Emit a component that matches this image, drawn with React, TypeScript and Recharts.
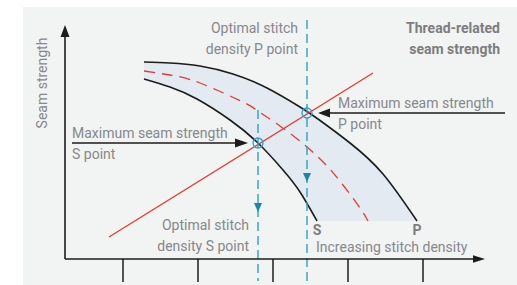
import { ComposedChart, Area, Line, XAxis, YAxis, ReferenceLine, ReferenceDot } from 'recharts';

// curves (x: stitch density, y: seam strength)
const pCurve = [
  { x: 79, y: 197 }, { x: 105, y: 196 }, { x: 135, y: 193 }, { x: 168, y: 185 },
  { x: 202, y: 171 }, { x: 235, y: 152 }, { x: 253, y: 140 }, { x: 285, y: 116 },
  { x: 318, y: 85 }, { x: 352, y: 38 },
];
const sCurve = [
  { x: 79, y: 180 }, { x: 105, y: 172 }, { x: 132, y: 160 }, { x: 165, y: 139 },
  { x: 193, y: 116 }, { x: 218, y: 89 }, { x: 235, y: 67 }, { x: 252, y: 38 },
];
const threadCurve = [
  { x: 79, y: 188 }, { x: 105, y: 184 }, { x: 135, y: 176 }, { x: 178, y: 157 },
  { x: 190, y: 150 }, { x: 215, y: 133 }, { x: 242, y: 112 }, { x: 262, y: 93 },
  { x: 278, y: 74 }, { x: 295, y: 51 }, { x: 303, y: 38 },
];
const fabricLine = [{ x: 44, y: 22 }, { x: 308, y: 186 }];
const densityTicks = [58, 133, 208, 283, 358];
const baseLevel = 38;

const pPoint = { x: 242, y: 146 };
const sPoint = { x: 193, y: 116 };

const BLUE = '#2e9fc9';
const RED = '#e8392c';
const INK = '#1c1c1c';
const GRAY_TXT = '#86888b';
const BG = '#f2f3f3';

const arrow = (color: string, len: number, half: number, width = 1.5) => (p: any) => {
  const { x1, y1, x2, y2 } = p;
  const dx = x2 - x1;
  const dy = y2 - y1;
  const d = Math.hypot(dx, dy) || 1;
  const ux = dx / d;
  const uy = dy / d;
  const bx = x2 - ux * len;
  const by = y2 - uy * len;
  const pts = `${x2},${y2} ${bx - uy * half},${by + ux * half} ${bx + uy * half},${by - ux * half}`;
  return (
    <g>
      <line x1={x1} y1={y1} x2={bx + ux} y2={by + uy} stroke={color} strokeWidth={width} />
      <polygon points={pts} fill={color} />
    </g>
  );
};

const plainLine = (color: string, width: number, dash: string) => (p: any) => (
  <line x1={p.x1} y1={p.y1} x2={p.x2} y2={p.y2} stroke={color} strokeWidth={width} strokeDasharray={dash} />
);

const downTriangle = (p: any) => (
  <polygon points={`${p.cx},${p.cy} ${p.cx - 4},${p.cy - 9} ${p.cx + 4},${p.cy - 9}`} fill="#1b86ab" />
);

const font = "Roboto, 'Liberation Sans', sans-serif";

export default function App() {
  return (
    <div style={{ position: 'absolute', left: 0, top: 0, width: 517, height: 285, background: '#fff', overflow: 'hidden' }}>
      <div style={{ position: 'absolute', left: 23, top: 7, right: 0, bottom: 0, background: BG }} />
      <div style={{ position: 'absolute', left: 0, top: 0 }}>
        <ComposedChart width={517} height={285} margin={{ top: 25, right: 32, bottom: 0, left: 65 }}>
          <XAxis
            type="number"
            dataKey="x"
            domain={[0, 420]}
            ticks={densityTicks}
            height={26}
            axisLine={false}
            tickSize={23}
            tickLine={{ stroke: INK, strokeWidth: 1.5 }}
            tick={() => <g />}
            allowDataOverflow
          />
          <YAxis type="number" dataKey="y" domain={[0, 234]} hide allowDataOverflow />
          <Area data={pCurve} dataKey="y" type="natural" baseValue={baseLevel} fill="#e3eaf1" fillOpacity={1} stroke={INK} strokeWidth={1.6} isAnimationActive={false} dot={false} activeDot={false} />
          <Area data={sCurve} dataKey="y" type="natural" baseValue={baseLevel} fill={BG} fillOpacity={1} stroke={INK} strokeWidth={1.6} isAnimationActive={false} dot={false} activeDot={false} />
          <Line data={threadCurve} dataKey="y" type="natural" stroke={RED} strokeWidth={1.3} strokeDasharray="11 7" dot={false} activeDot={false} isAnimationActive={false} />
          <Line data={fabricLine} dataKey="y" type="linear" stroke={RED} strokeWidth={1.3} dot={false} activeDot={false} isAnimationActive={false} />

          <ReferenceLine segment={[{ x: 242, y: 239 }, { x: 242, y: -22 }]} ifOverflow="visible" shape={plainLine(BLUE, 1.4, '9 5')} />
          <ReferenceLine segment={[{ x: 193, y: 149 }, { x: 193, y: -22 }]} ifOverflow="visible" shape={plainLine(BLUE, 1.4, '9 5')} />
          <ReferenceDot x={pPoint.x} y={pPoint.y - 69} ifOverflow="visible" shape={downTriangle} />
          <ReferenceDot x={sPoint.x} y={sPoint.y - 69} ifOverflow="visible" shape={downTriangle} />

          <ReferenceLine segment={[{ x: 0, y: 0 }, { x: 0, y: 234 }]} ifOverflow="visible" shape={arrow(INK, 12, 4.5, 1.6)} />
          <ReferenceLine segment={[{ x: 0, y: 0 }, { x: 420, y: 0 }]} ifOverflow="visible" shape={arrow(INK, 12, 3.8, 1.6)} />
          <ReferenceLine segment={[{ x: 7, y: 116 }, { x: 183, y: 116 }]} ifOverflow="visible" shape={arrow(INK, 13, 4.5, 1.5)} />
          <ReferenceLine segment={[{ x: 440, y: 146 }, { x: 253, y: 146 }]} ifOverflow="visible" shape={arrow(INK, 12, 4.5, 1.5)} />

          <ReferenceDot x={pPoint.x} y={pPoint.y} r={5} fill="none" stroke={BLUE} strokeWidth={1.3} ifOverflow="visible" />
          <ReferenceDot x={sPoint.x} y={sPoint.y} r={5} fill="none" stroke={BLUE} strokeWidth={1.3} ifOverflow="visible" />
        </ComposedChart>
      </div>
      <svg width={517} height={285} style={{ position: 'absolute', left: 0, top: 0, pointerEvents: 'none' }} fontFamily={font} fontSize={14} fill={GRAY_TXT}>
        <text x={50} y={83} textAnchor="middle" transform="rotate(-90 50 83)" dy={-3}>Seam strength</text>
        <text x={298} y={33} textAnchor="end">Optimal stitch</text>
        <text x={298} y={54} textAnchor="end">density P point</text>
        <text x={500} y={33} textAnchor="end" fontWeight="bold" fill="#7c7d7f">Thread-related</text>
        <text x={500} y={54} textAnchor="end" fontWeight="bold" fill="#7c7d7f">seam strength</text>
        <text x={72} y={138}>Maximum seam strength</text>
        <text x={72} y={159}>S point</text>
        <text x={338} y={108}>Maximum seam strength</text>
        <text x={338} y={129}>P point</text>
        <text x={249} y={230} textAnchor="end">Optimal stitch</text>
        <text x={249} y={251} textAnchor="end">density S point</text>
        <text x={317} y={235} textAnchor="middle" fontWeight="bold" fill="#7c7d7f">S</text>
        <text x={417} y={235} textAnchor="middle" fontWeight="bold" fill="#7c7d7f">P</text>
        <text x={316} y={252}>Increasing stitch density</text>
      </svg>
    </div>
  );
}
